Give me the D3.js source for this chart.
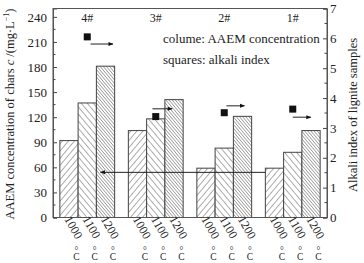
<!DOCTYPE html>
<html>
<head>
<meta charset="utf-8">
<script src="https://cdn.jsdelivr.net/npm/d3@7"></script>
<style>
  body { margin: 0; background: #fff; }
  text { font-family: "Liberation Serif", "DejaVu Serif", serif; fill: #222; }
</style>
</head>
<body>
<div id="chart"></div>
<script>
// Data
const samples = ["4#", "3#", "2#", "1#"];
const temps = ["1000", "1100", "1200"];
const conc1000 = [92, 104, 59, 59];
const conc1100 = [137, 118, 83, 78];
const conc1200 = [181, 141, 121, 104];
const alkaliIndex = [6.05, 3.38, 3.51, 3.63];
const arrowLevel = [5.81, 3.64, 3.74, 3.36];   // right-axis value of each small arrow
const arrowFrom = [0.56, 0.44, 0.54, 0.5];     // start / end as fraction of group band
const arrowTo = [0.97, 0.8, 0.87, 0.83];
const leftTicks = [0, 30, 60, 90, 120, 150, 180, 210, 240];
const rightTicks = [0, 1, 2, 3, 4, 5, 6, 7];
const bigArrowLevel = 54;

const width = 364, height = 263;
const margin = { top: 8.5, right: 37, bottom: 45.5, left: 53 };

const svg = d3.select("#chart").append("svg")
    .attr("width", width)
    .attr("height", height);

// hatch patterns
const defs = svg.append("defs");
function hatch(id, spacing, angle) {
    const p = defs.append("pattern")
        .attr("id", id)
        .attr("patternUnits", "userSpaceOnUse")
        .attr("width", spacing)
        .attr("height", spacing)
        .attr("patternTransform", "rotate(" + angle + ")");
    p.append("rect").attr("width", spacing).attr("height", spacing).attr("fill", "#fff");
    p.append("line")
        .attr("x1", 0).attr("y1", 0).attr("x2", 0).attr("y2", spacing)
        .attr("stroke", "#333").attr("stroke-width", 0.8);
}
hatch("h1000", 4.6, 40);
hatch("h1100", 4.6, -40);
hatch("h1200", 2.4, -40);

const x0 = margin.left, x1 = width - margin.right;
const yBottom = height - margin.bottom, yTop = margin.top;

const xGroup = d3.scaleBand().domain(samples).range([x0, x1]).paddingInner(0.2).paddingOuter(0.1);
const xTemp = d3.scaleBand().domain(temps).range([0, xGroup.bandwidth()]);
const yLeft = d3.scaleLinear().domain([0, 250]).range([yBottom, yTop]);
const yRight = d3.scaleLinear().domain([0, 7]).range([yBottom, yTop]);

// bars
const rows = [];
samples.forEach((s, i) => {
    [conc1000, conc1100, conc1200].forEach((arr, j) => {
        rows.push({ sample: s, temp: temps[j], value: arr[i] });
    });
});

svg.append("g").selectAll("rect")
    .data(rows)
    .enter().append("rect")
    .attr("x", d => xGroup(d.sample) + xTemp(d.temp))
    .attr("y", d => yLeft(d.value))
    .attr("width", xTemp.bandwidth())
    .attr("height", d => yBottom - yLeft(d.value))
    .attr("fill", d => "url(#h" + d.temp + ")")
    .attr("stroke", "#444")
    .attr("stroke-width", 1);

// frame
svg.append("rect")
    .attr("x", x0).attr("y", yTop)
    .attr("width", x1 - x0).attr("height", yBottom - yTop)
    .attr("fill", "none").attr("stroke", "#555").attr("stroke-width", 1);

// left axis, ticks inward
const leftAxis = d3.axisLeft(yLeft).tickValues(leftTicks).tickSize(-4).tickPadding(6);
const gl = svg.append("g").attr("transform", "translate(" + x0 + ",0)").call(leftAxis);
gl.selectAll(".tick text").style("font-size", "13px").style("font-family", "Liberation Serif");
gl.append("g").selectAll("line")
    .data(d3.range(15, 250, 30))
    .enter().append("line")
    .attr("x1", 0).attr("x2", 2.5)
    .attr("y1", d => yLeft(d)).attr("y2", d => yLeft(d))
    .attr("stroke", "#444");

// right axis, ticks inward
const rightAxis = d3.axisRight(yRight).tickValues(rightTicks).tickFormat(d3.format("d"))
    .tickSize(-4).tickPadding(3);
const gr = svg.append("g").attr("transform", "translate(" + x1 + ",0)").call(rightAxis);
gr.selectAll(".tick text").style("font-size", "13px").style("font-family", "Liberation Serif");
gr.append("g").selectAll("line")
    .data(d3.range(0.5, 7, 1))
    .enter().append("line")
    .attr("x1", 0).attr("x2", -2.5)
    .attr("y1", d => yRight(d)).attr("y2", d => yRight(d))
    .attr("stroke", "#444");

svg.selectAll(".domain").attr("stroke", "#555");
svg.selectAll(".tick line").attr("stroke", "#444");

// x labels, rotated temps with an upright degree sign stacked below
rows.forEach(d => {
    const cx = xGroup(d.sample) + xTemp(d.temp) + xTemp.bandwidth() / 2;
    svg.append("text")
        .attr("transform", "translate(" + (cx - 4) + "," + (yBottom + 1) + ") rotate(60)")
        .attr("dy", "0.1em")
        .style("font-size", "12px")
        .text(d.temp);
    svg.append("text")
        .attr("x", cx + 7.5)
        .attr("y", 246)
        .style("writing-mode", "vertical-rl")
        .style("text-orientation", "upright")
        .style("letter-spacing", "-4px")
        .style("font-size", "9.5px")
        .text("°C");
});

// sample names
svg.append("g").selectAll("text")
    .data(samples)
    .enter().append("text")
    .attr("x", d => xGroup(d) + xTemp("1100") + xTemp.bandwidth() / 2)
    .attr("y", 22)
    .attr("text-anchor", "middle")
    .style("font-size", "12px")
    .text(d => d);

// alkali index squares
const sq = 7;
svg.append("g").selectAll("rect")
    .data(samples)
    .enter().append("rect")
    .attr("x", d => xGroup(d) + xTemp("1100") + xTemp.bandwidth() / 2 - sq / 2)
    .attr("y", (d, i) => yRight(alkaliIndex[i]) - sq / 2)
    .attr("width", sq).attr("height", sq)
    .attr("fill", "#111");

// arrows
defs.append("marker")
    .attr("id", "arrow")
    .attr("viewBox", "0 0 10 10")
    .attr("refX", 9).attr("refY", 5)
    .attr("markerWidth", 6).attr("markerHeight", 5)
    .attr("markerUnits", "userSpaceOnUse")
    .attr("orient", "auto")
    .append("path").attr("d", "M0,1 L10,5 L0,9 Z").attr("fill", "#111");

svg.append("g").selectAll("line")
    .data(samples)
    .enter().append("line")
    .attr("x1", (d, i) => xGroup(d) + xGroup.bandwidth() * arrowFrom[i])
    .attr("x2", (d, i) => xGroup(d) + xGroup.bandwidth() * arrowTo[i])
    .attr("y1", (d, i) => yRight(arrowLevel[i]))
    .attr("y2", (d, i) => yRight(arrowLevel[i]))
    .attr("stroke", "#222").attr("stroke-width", 1)
    .attr("marker-end", "url(#arrow)");

svg.append("line")
    .attr("x1", xGroup("1#"))
    .attr("x2", xGroup("4#") + xTemp("1200") + xTemp.bandwidth() / 2 - 5)
    .attr("y1", yLeft(bigArrowLevel)).attr("y2", yLeft(bigArrowLevel))
    .attr("stroke", "#222").attr("stroke-width", 1)
    .attr("marker-end", "url(#arrow)");

// legend text
svg.append("text").attr("x", 163).attr("y", 43).style("font-size", "13px")
    .text("colume: AAEM concentration");
svg.append("text").attr("x", 163).attr("y", 64).style("font-size", "13px")
    .text("squares: alkali index");

// axis titles
svg.append("text")
    .attr("transform", "translate(14," + ((yTop + yBottom) / 2 + 1) + ") rotate(-90)")
    .attr("text-anchor", "middle")
    .style("font-size", "12.5px")
    .html("AAEM concentration of chars <tspan font-style='italic'>c</tspan> /(mg·L<tspan dy='-5' font-size='8px'>−1</tspan><tspan dy='5'>)</tspan>");

svg.append("text")
    .attr("transform", "translate(357," + ((yTop + yBottom) / 2 + 2) + ") rotate(-90)")
    .attr("text-anchor", "middle")
    .style("font-size", "12.5px")
    .text("Alkali index of lignite samples");
</script>
</body>
</html>
